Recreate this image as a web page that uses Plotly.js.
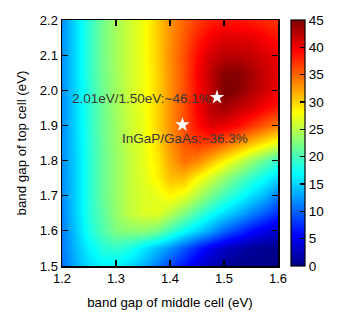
<!DOCTYPE html>
<html>
<head>
<meta charset="utf-8">
<script src="https://cdn.plot.ly/plotly-3.0.1.min.js"></script>
<style>
	body { margin: 0; background: #fff; }
	#plot { width: 346px; height: 322px; }
</style>
</head>
<body>
<div id="plot"></div>
<script>
// band gaps (eV)
var bandMiddle = [1.200, 1.225, 1.250, 1.275, 1.300, 1.325, 1.350, 1.375, 1.400, 1.425, 1.450, 1.475, 1.500, 1.525, 1.550, 1.575, 1.600];
var bandTop = [1.50, 1.55, 1.60, 1.65, 1.70, 1.75, 1.80, 1.85, 1.90, 1.95, 2.00, 2.05, 2.10, 2.15, 2.20];

// efficiency (%) per top-cell row
var eff150 = [10.5, 13.5, 15.3, 16.5, 16.5, 15.0, 13.5, 11.0, 8.5, 6.3, 4.2, 2.3, 1.0, 0.4, 0.3, 0.2, 0.2];
var eff155 = [11.0, 14.0, 16.5, 18.5, 19.0, 18.0, 16.0, 14.0, 12.0, 9.5, 7.0, 4.7, 3.0, 1.8, 1.0, 0.6, 0.5];
var eff160 = [11.3, 14.5, 18.0, 20.5, 22.5, 23.0, 23.0, 22.0, 19.5, 17.0, 15.0, 12.5, 10.0, 8.0, 6.0, 4.5, 3.2];
var eff165 = [11.5, 15.0, 18.5, 21.0, 23.5, 25.5, 26.5, 27.0, 25.0, 22.5, 20.0, 17.5, 15.5, 13.5, 11.5, 9.5, 7.5];
var eff170 = [11.8, 15.0, 18.5, 21.5, 23.5, 25.5, 26.5, 27.0, 28.3, 27.0, 24.5, 22.0, 19.5, 17.5, 15.5, 13.5, 11.0];
var eff175 = [11.8, 15.0, 18.5, 21.5, 23.5, 25.5, 26.8, 28.5, 31.0, 31.0, 28.3, 25.8, 23.5, 21.0, 19.0, 17.0, 15.0];
var eff180 = [12.0, 15.0, 18.5, 21.5, 23.5, 25.5, 27.0, 29.0, 32.0, 34.5, 33.5, 31.0, 28.5, 26.0, 23.5, 21.0, 19.0];
var eff185 = [12.0, 15.2, 18.6, 21.6, 23.7, 25.7, 27.0, 29.5, 33.0, 35.5, 37.0, 36.5, 35.0, 33.0, 31.0, 29.0, 27.0];
var eff190 = [12.0, 15.3, 18.7, 21.7, 23.8, 25.8, 27.2, 30.0, 33.0, 36.0, 38.8, 41.0, 40.5, 39.2, 37.3, 35.5, 34.0];
var eff195 = [12.0, 15.3, 18.8, 21.8, 24.0, 26.0, 27.4, 30.0, 33.0, 36.0, 39.5, 42.5, 43.5, 42.0, 41.0, 39.3, 38.0];
var eff200 = [12.0, 15.3, 18.8, 21.8, 24.0, 26.0, 27.4, 30.0, 33.0, 36.0, 39.0, 42.0, 45.5, 44.8, 43.0, 41.5, 40.0];
var eff205 = [12.0, 15.5, 19.0, 22.0, 24.0, 26.0, 27.5, 30.0, 33.0, 36.0, 39.5, 42.5, 44.5, 44.8, 43.3, 41.8, 40.5];
var eff210 = [12.0, 15.5, 19.0, 22.0, 24.2, 26.0, 27.6, 30.2, 33.2, 36.0, 39.0, 41.4, 42.4, 42.4, 41.9, 41.0, 40.0];
var eff215 = [12.0, 15.5, 19.0, 22.0, 24.2, 26.0, 27.6, 30.3, 33.0, 35.5, 38.0, 40.0, 40.8, 40.8, 40.5, 39.6, 38.4];
var eff220 = [12.0, 15.5, 19.0, 22.0, 24.2, 26.0, 27.6, 30.3, 33.0, 35.0, 36.8, 38.0, 38.5, 38.5, 38.2, 37.6, 37.0];

// marked cells
var starX = [1.487, 1.423];
var starY = [1.980, 1.902];
var starLabels = ['2.01eV/1.50eV:~46.1%', 'InGaP/GaAs:~36.3%'];
var labelX = [1.479, 1.4275];
var labelY = [1.978, 1.863];
var labelAnchor = ['right', 'center'];

var colorTicks = [0, 5, 10, 15, 20, 25, 30, 35, 40, 45];

// matlab style jet
var jet = [
	[0, 'rgb(0,0,131)'],
	[0.125, 'rgb(0,0,255)'],
	[0.375, 'rgb(0,255,255)'],
	[0.625, 'rgb(255,255,0)'],
	[0.875, 'rgb(255,0,0)'],
	[1, 'rgb(128,0,0)']
];

var font = 'Liberation Sans, Arial, sans-serif';

var heat = {
	type: 'heatmap',
	x: bandMiddle,
	y: bandTop,
	z: [eff150, eff155, eff160, eff165, eff170, eff175, eff180, eff185, eff190, eff195, eff200, eff205, eff210, eff215, eff220],
	zmin: 0,
	zmax: 45,
	zsmooth: 'best',
	colorscale: jet,
	hoverinfo: 'skip',
	colorbar: {
		x: 1.059,
		xanchor: 'left',
		y: 0.5,
		len: 1,
		lenmode: 'fraction',
		thickness: 14,
		outlinewidth: 1.2,
		outlinecolor: '#000',
		ticks: 'inside',
		ticklen: 5,
		tickwidth: 1.2,
		tickcolor: '#000',
		tickvals: colorTicks,
		ticktext: colorTicks.map(String),
		tickfont: { family: font, size: 13.5, color: '#000' },
		xpad: 0,
		ypad: 0
	}
};

var stars = {
	type: 'scatter',
	mode: 'markers',
	x: starX,
	y: starY,
	marker: { symbol: 'star', size: 11, color: '#fff', line: { width: 0 } },
	hoverinfo: 'skip',
	showlegend: false
};

var annotations = starLabels.map((txt, i) => {
	return {
		x: labelX[i],
		y: labelY[i],
		xref: 'x',
		yref: 'y',
		text: txt,
		showarrow: false,
		xanchor: labelAnchor[i],
		yanchor: 'middle',
		font: { family: font, size: 13.5, color: 'rgb(55,55,55)' }
	};
});

var axisBase = {
	showline: true,
	linecolor: '#000',
	linewidth: 1.5,
	mirror: 'ticks',
	ticks: 'inside',
	ticklen: 6,
	tickwidth: 1.2,
	tickcolor: '#000',
	showgrid: false,
	zeroline: false,
	dtick: 0.1,
	tickformat: '.1f',
	tickfont: { family: font, size: 13, color: '#000' }
};

var layout = {
	width: 346,
	height: 322,
	margin: { l: 62, r: 68, t: 20, b: 56 },
	paper_bgcolor: '#fff',
	plot_bgcolor: '#fff',
	showlegend: false,
	xaxis: Object.assign({}, axisBase, {
		range: [1.2, 1.6],
		tick0: 1.2,
		title: { text: 'band gap of middle cell (eV)', font: { family: font, size: 13.3, color: '#000' }, standoff: 12 }
	}),
	yaxis: Object.assign({}, axisBase, {
		range: [1.5, 2.2],
		tick0: 1.5,
		title: { text: 'band gap of top cell (eV)', font: { family: font, size: 13.3, color: '#000' }, standoff: 10 }
	}),
	annotations: annotations
};

Plotly.newPlot('plot', [heat, stars], layout, { displayModeBar: false, staticPlot: true });
</script>
</body>
</html>
